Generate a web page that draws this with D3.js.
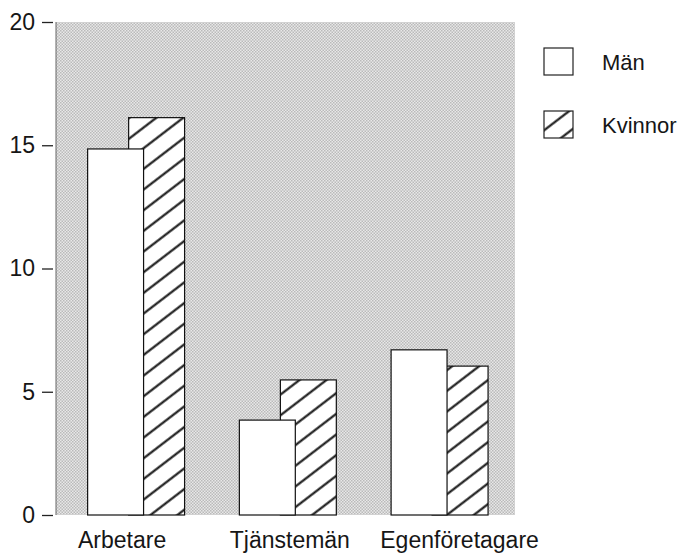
<!DOCTYPE html>
<html><head><meta charset="utf-8">
<script src="https://cdn.jsdelivr.net/npm/d3@7"></script>
<style>
body{margin:0;background:#fff}
text{font-family:"Liberation Sans",Arial,Helvetica,sans-serif;fill:#161616}
</style>
</head><body>
<svg id="c" width="687" height="554"></svg>
<script>
// ---- data ----
const categories = ["Arbetare", "Tjänstemän", "Egenföretagare"];
const seriesNames = ["Män", "Kvinnor"];
const manValues = [14.85, 3.85, 6.7];
const kvinnorValues = [16.12, 5.48, 6.04];
const yTickValues = [0, 5, 10, 15, 20];

// ---- layout ----
const svg = d3.select("#c");
const plot = {left: 56, right: 515, top: 22, bottom: 515};
const labelDx = [-14, 2, 20];

const y = d3.scaleLinear().domain([0, 20]).range([plot.bottom, plot.top]);
const x = d3.scaleBand().domain(categories).range([plot.left, plot.right])
  .paddingInner(0.361).paddingOuter(0.193).align(0.54);
const barW = x.bandwidth() * 0.577;
const xs = d3.scalePoint().domain(seriesNames).range([0, x.bandwidth() - barW]);

const defs = svg.append("defs");
const dots = defs.append("pattern").attr("id", "dots").attr("patternUnits", "userSpaceOnUse")
  .attr("width", 3).attr("height", 3);
dots.append("rect").attr("width", 3).attr("height", 3).attr("fill", "#e8e8e8");
dots.append("rect").attr("width", 1.5).attr("height", 1.5).attr("fill", "#bababa");
dots.append("rect").attr("x", 1.5).attr("y", 1.5).attr("width", 1.5).attr("height", 1.5).attr("fill", "#bababa");

const hatch = defs.append("pattern").attr("id", "hatch").attr("patternUnits", "userSpaceOnUse")
  .attr("width", 10).attr("height", 16.4).attr("patternTransform", "rotate(-37.5)");
hatch.append("rect").attr("width", 10).attr("height", 16.4).attr("fill", "#fff");
hatch.append("line").attr("x1", -1).attr("x2", 11).attr("y1", 8.2).attr("y2", 8.2)
  .attr("stroke", "#111").attr("stroke-width", 2.1);

// background
svg.append("rect").attr("x", plot.left).attr("y", y(20))
  .attr("width", plot.right - plot.left).attr("height", y(0) - y(20))
  .attr("fill", "url(#dots)");
svg.append("line").attr("x1", plot.left).attr("x2", plot.left)
  .attr("y1", y(20)).attr("y2", y(0)).attr("stroke", "#666").attr("stroke-width", 1);

// y axis
const yAxis = svg.append("g").attr("transform", `translate(${plot.left - 3},0)`)
  .call(d3.axisLeft(y).tickValues(yTickValues).tickSize(11).tickPadding(7));
yAxis.select(".domain").remove();
yAxis.selectAll(".tick line").attr("stroke", "#222").attr("stroke-width", 1.3);
yAxis.selectAll(".tick text").attr("font-size", 23).attr("fill", "#161616")
  .attr("font-family", '"Liberation Sans",Arial,sans-serif');

// bars: Kvinnor behind, Män in front
const groups = categories.map((c, i) => ({c, man: manValues[i], kv: kvinnorValues[i]}));
svg.append("g").selectAll("rect").data(groups).join("rect")
  .attr("x", d => x(d.c) + xs("Kvinnor")).attr("y", d => y(d.kv))
  .attr("width", barW).attr("height", d => y(0) - y(d.kv))
  .attr("fill", "url(#hatch)").attr("stroke", "#111").attr("stroke-width", 1.2);
svg.append("g").selectAll("rect").data(groups).join("rect")
  .attr("x", d => x(d.c) + xs("Män")).attr("y", d => y(d.man))
  .attr("width", barW).attr("height", d => y(0) - y(d.man))
  .attr("fill", "#fff").attr("stroke", "#111").attr("stroke-width", 1.2);

// category labels
svg.append("g").selectAll("text").data(categories).join("text")
  .attr("x", (c, i) => x(c) + x.bandwidth() / 2 + labelDx[i]).attr("y", 548)
  .attr("text-anchor", "middle").attr("font-size", 23).text(c => c);

// legend
const legend = svg.append("g");
const legendItems = [
  {name: seriesNames[0], fill: "#fff", y: 48},
  {name: seriesNames[1], fill: "url(#hatch)", y: 111}
];
legendItems.forEach(it => {
  legend.append("rect").attr("x", 544).attr("y", it.y).attr("width", 29).attr("height", 27)
    .attr("fill", it.fill).attr("stroke", "#222").attr("stroke-width", 1.2);
  legend.append("text").attr("x", 602).attr("y", it.y + 22).attr("font-size", 22).text(it.name);
});
</script>
</body></html>
